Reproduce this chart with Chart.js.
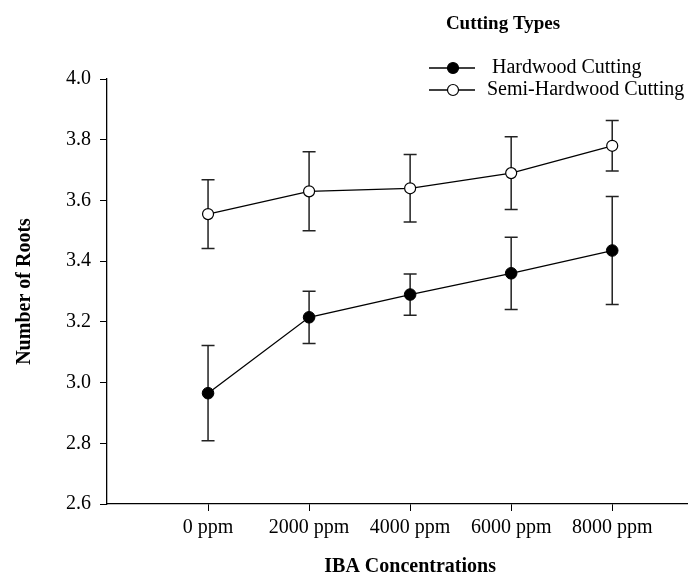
<!DOCTYPE html>
<html>
<head>
<meta charset="utf-8">
<script src="https://cdn.jsdelivr.net/npm/chart.js@4.4.1/dist/chart.umd.min.js"></script>
<style>
  html, body { margin: 0; padding: 0; background: #fff; }
  #wrap { width: 688px; height: 577px; }
</style>
</head>
<body>
<div id="wrap"><canvas id="myChart"></canvas></div>
<script>
const concentrations = ['0 ppm', '2000 ppm', '4000 ppm', '6000 ppm', '8000 ppm'];
const hardwood = [2.965, 3.215, 3.29, 3.36, 3.435];
const hardwoodErr = [0.157, 0.086, 0.068, 0.119, 0.178];
const semiHardwood = [3.555, 3.63, 3.64, 3.69, 3.78];
const semiHardwoodErr = [0.113, 0.13, 0.111, 0.12, 0.083];
const yTicks = [2.6, 2.8, 3.0, 3.2, 3.4, 3.6, 3.8, 4.0];

const FONT = "'Liberation Serif', 'Times New Roman', serif";

// vertical bars with caps, drawn under the lines
const errorBars = {
    id: 'errorBars',
    beforeDatasetsDraw(chart) {
        const ctx = chart.ctx, xs = chart.scales.x, ys = chart.scales.y;
        ctx.save();
        ctx.strokeStyle = '#222';
        ctx.lineWidth = 1.5;
        chart.data.datasets.forEach(ds => {
            ds.data.forEach((p, i) => {
                const px = xs.getPixelForValue(p.x);
                const top = ys.getPixelForValue(p.y + ds.errors[i]);
                const bot = ys.getPixelForValue(p.y - ds.errors[i]);
                ctx.beginPath();
                ctx.moveTo(px, top); ctx.lineTo(px, bot);
                ctx.moveTo(px - 6.5, top); ctx.lineTo(px + 6.5, top);
                ctx.moveTo(px - 6.5, bot); ctx.lineTo(px + 6.5, bot);
                ctx.stroke();
            });
        });
        ctx.restore();
    }
};

// legend box at top right + x axis title centred over the categories
const extras = {
    id: 'extras',
    afterDraw(chart) {
        const ctx = chart.ctx, xs = chart.scales.x;
        ctx.save();
        ctx.fillStyle = '#000';
        ctx.textBaseline = 'middle';

        ctx.font = 'bold 19px ' + FONT;
        ctx.textAlign = 'center';
        ctx.fillText('Cutting Types', 503, 24);

        const rows = [68, 90];
        chart.data.datasets.forEach((ds, i) => {
            const y = rows[i];
            ctx.strokeStyle = '#000';
            ctx.lineWidth = 1.3;
            ctx.beginPath(); ctx.moveTo(429, y); ctx.lineTo(475, y); ctx.stroke();
            ctx.beginPath(); ctx.arc(453, y, 5.5, 0, Math.PI * 2);
            ctx.fillStyle = ds.pointBackgroundColor;
            ctx.fill();
            ctx.lineWidth = 1.2;
            ctx.stroke();
            ctx.fillStyle = '#000';
            ctx.font = '20px ' + FONT;
            ctx.textAlign = 'left';
            ctx.fillText(ds.label, 487, y);
        });

        const cx = (xs.getPixelForValue(0) + xs.getPixelForValue(concentrations.length - 1)) / 2;
        ctx.font = 'bold 20px ' + FONT;
        ctx.textAlign = 'center';
        ctx.fillText('IBA Concentrations', cx, 567);
        ctx.restore();
    }
};

window.onload = function () {
    const ctx = document.getElementById('myChart').getContext('2d');

    const data = {
        datasets: [{
            label: ' Hardwood Cutting',
            data: hardwood.map((v, i) => ({ x: i, y: v })),
            errors: hardwoodErr,
            borderColor: '#000',
            borderWidth: 1.3,
            pointBackgroundColor: '#000',
            pointBorderColor: '#000',
            pointBorderWidth: 1,
            pointRadius: 5.8
        }, {
            label: 'Semi-Hardwood Cutting',
            data: semiHardwood.map((v, i) => ({ x: i, y: v })),
            errors: semiHardwoodErr,
            borderColor: '#000',
            borderWidth: 1.3,
            pointBackgroundColor: '#fff',
            pointBorderColor: '#000',
            pointBorderWidth: 1.2,
            pointRadius: 5.5
        }]
    };

    new Chart(ctx, {
        type: 'line',
        data,
        plugins: [errorBars, extras],
        options: {
            responsive: true,
            maintainAspectRatio: false,
            animation: false,
            devicePixelRatio: 1,
            layout: { autoPadding: false, padding: { top: 79, right: 0, left: 0, bottom: 0 } },
            plugins: {
                legend: { display: false },
                tooltip: { enabled: false }
            },
            scales: {
                x: {
                    type: 'linear',
                    min: -1,
                    max: 4.75,
                    afterBuildTicks: s => { s.ticks = concentrations.map((_, i) => ({ value: i })); },
                    afterFit: s => { s.height = 73; s.paddingRight = 0; s.paddingLeft = 0; },
                    ticks: {
                        callback: v => concentrations[v],
                        color: '#000',
                        font: { family: FONT, size: 20 },
                        padding: 5,
                        maxRotation: 0
                    },
                    grid: { drawOnChartArea: false, tickLength: 7, tickColor: '#000' },
                    border: { color: '#000', width: 1.3 }
                },
                y: {
                    min: 2.6,
                    max: 4.0,
                    afterBuildTicks: s => { s.ticks = yTicks.map(v => ({ value: v })); },
                    afterFit: s => { s.width = 107; },
                    ticks: {
                        callback: v => v.toFixed(1),
                        color: '#000',
                        font: { family: FONT, size: 20 },
                        padding: 9
                    },
                    grid: { drawOnChartArea: false, tickLength: 7, tickColor: '#000' },
                    border: { color: '#000', width: 1.3 },
                    title: {
                        display: true,
                        text: 'Number of Roots',
                        color: '#000',
                        font: { family: FONT, size: 20, weight: 'bold' },
                        padding: { top: 13, bottom: 0 }
                    }
                }
            }
        }
    });
};
</script>
</body>
</html>
